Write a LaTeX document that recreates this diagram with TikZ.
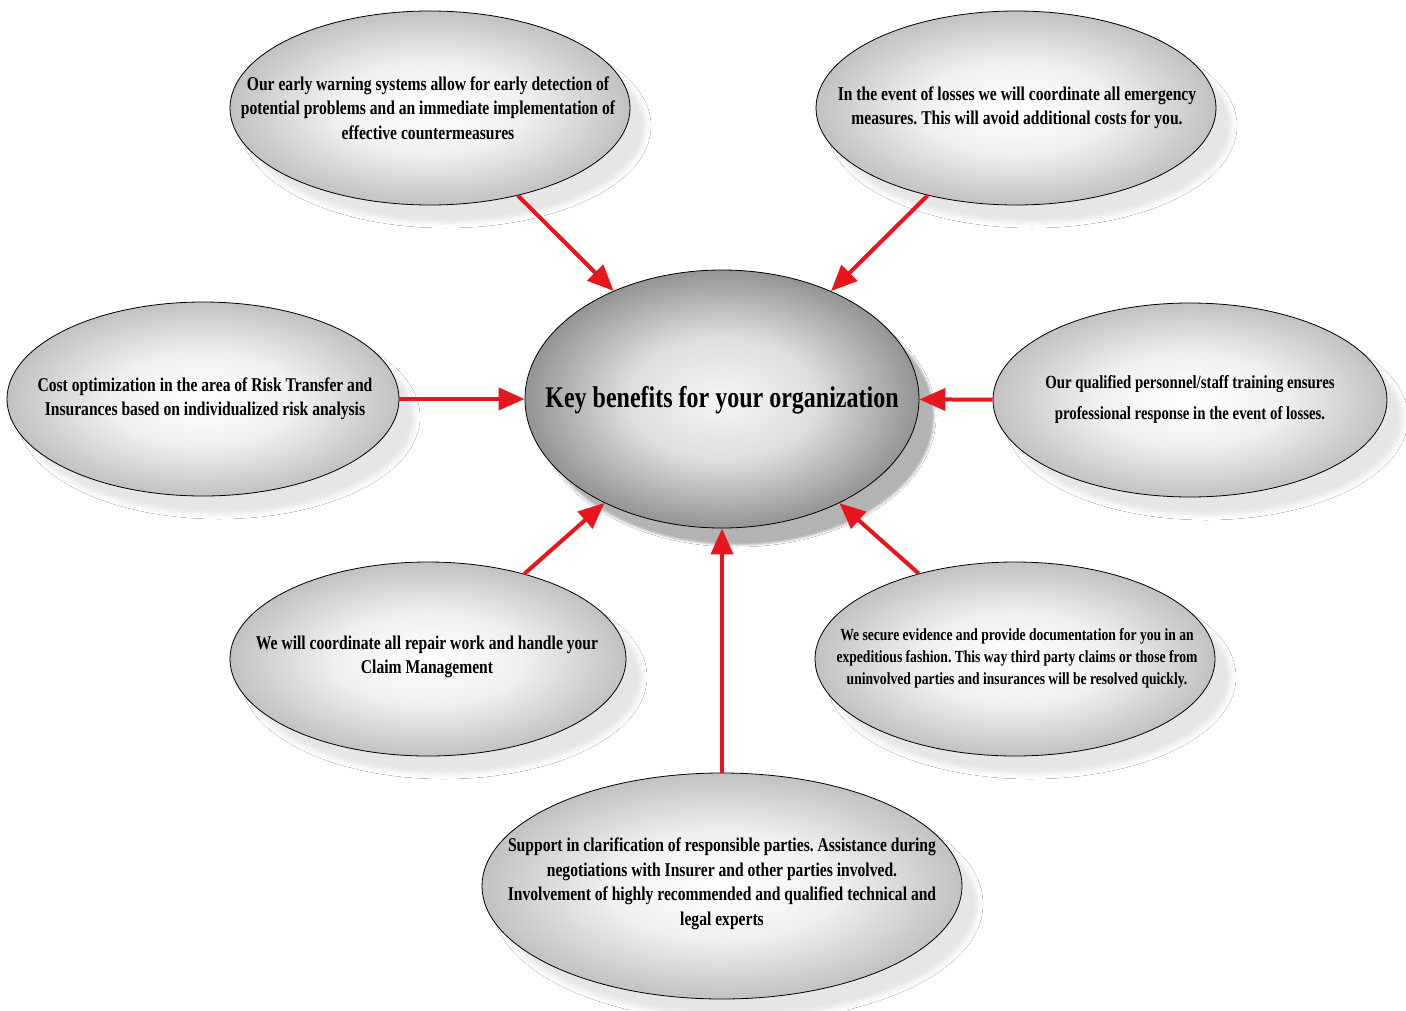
\documentclass[tikz,border=0pt]{standalone}
\usepackage{fontspec}
\newfontfamily\condfont{Liberation Serif}[FakeStretch=0.8]
\usetikzlibrary{arrows.meta,shapes.geometric,shadows.blur}
\definecolor{arrowred}{RGB}{232,22,28}
\pgfdeclareradialshading{bubbleshade}{\pgfpoint{0bp}{0bp}}{color(0bp)=(white); color(12bp)=(white!94!black); color(25bp)=(black!24); color(50bp)=(black!24)}
\pgfdeclareradialshading{hubshade}{\pgfpoint{0bp}{0bp}}{color(0bp)=(white!96!black); color(12bp)=(black!13); color(25bp)=(black!42); color(50bp)=(black!42)}
\frenchspacing
\begin{document}
\begin{tikzpicture}[x=1pt,y=-1pt,
    bubble/.style={ellipse,draw=black,line width=0.8pt,inner sep=0pt,minimum width=400pt,minimum height=194pt,
        shading=bubbleshade,
        blur shadow={shadow xshift=16pt,shadow yshift=-18pt,shadow blur radius=5pt,shadow opacity=10}},
    hub/.style={ellipse,draw=black,line width=0.8pt,inner sep=0pt,minimum width=394pt,minimum height=258pt,
        shading=hubshade,
        blur shadow={shadow xshift=15pt,shadow yshift=-17pt,shadow blur radius=2pt,shadow opacity=30}},
    txt/.style={align=center,font=\condfont\bfseries\fontsize{19.5}{24.5}\selectfont},
    arr/.style={draw=arrowred,line width=4pt,-{Triangle[length=26pt,width=22pt]}}]
    \fill[white] (0,0) rectangle (1406,1010);
    \useasboundingbox (0,0) rectangle (1406,1010);
    \node[bubble] (warn) at (430,108) {};
    \node[bubble] (emerg) at (1016,108) {};
    \node[bubble,minimum width=392pt] (cost) at (203,399) {};
    \node[bubble,minimum width=394pt] (staff) at (1190,400) {};
    \node[bubble,minimum width=396pt] (repair) at (428,659) {};
    \node[bubble] (evid) at (1015,659) {};
    \node[bubble,minimum width=480pt,minimum height=226pt] (support) at (722,886) {};
    \node[hub] (key) at (722,399) {};
    \node[txt] (warntxt) at (428,108) {Our early warning systems allow for early detection of\\potential problems and an immediate implementation of\\effective countermeasures};
    \node[txt,font=\condfont\bfseries\fontsize{19.5}{24}\selectfont] (emergtxt) at (1017,108) {In the event of losses we will coordinate all emergency\\measures. This will avoid additional costs for you.};
    \node[txt,font=\condfont\bfseries\fontsize{19.5}{24}\selectfont] (costtxt) at (205,399) {Cost optimization in the area of Risk Transfer and\\Insurances based on individualized risk analysis};
    \node[txt,font=\condfont\bfseries\fontsize{18.5}{31}\selectfont] (stafftxt) at (1190,399) {Our qualified personnel/staff training ensures\\professional response in the event of losses.};
    \node[txt] (repairtxt) at (427,657) {We will coordinate all repair work and handle your\\Claim Management};
    \node[txt,font=\condfont\bfseries\fontsize{17}{22}\selectfont] (evidtxt) at (1017,658) {We secure evidence and provide documentation for you in an\\expeditious fashion. This way third party claims or those from\\uninvolved parties and insurances will be resolved quickly.};
    \node[txt] (supporttxt) at (722,884) {Support in clarification of responsible parties. Assistance during\\negotiations with Insurer and other parties involved.\\Involvement of highly recommended and qualified technical and\\legal experts};
    \node[txt,font=\condfont\bfseries\fontsize{30}{36}\selectfont] (keytxt) at (722,400) {Key benefits for your organization};
    \draw[arr] (warn) -- (key);
    \draw[arr] (emerg) -- (key);
    \draw[arr] (cost) -- (key);
    \draw[arr] (staff) -- (key);
    \draw[arr] (repair) -- (key);
    \draw[arr] (evid) -- (key);
    \draw[arr] (support) -- (key);
\end{tikzpicture}
\end{document}
